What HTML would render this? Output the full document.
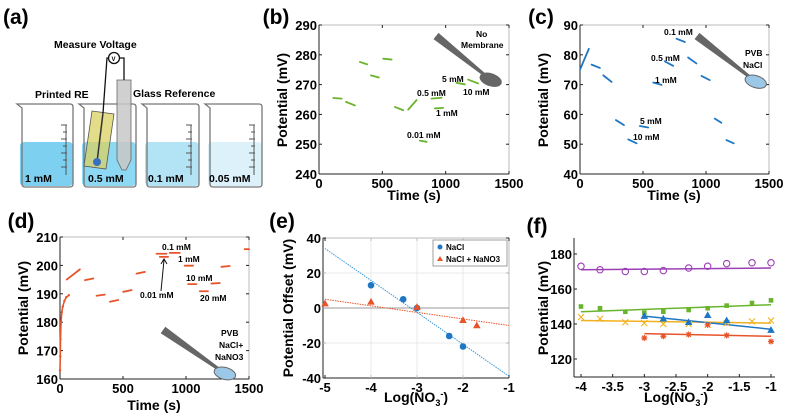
<!DOCTYPE html>
<html><head><meta charset="utf-8"><style>
body{margin:0;background:#fff}
svg{display:block;font-family:"Liberation Sans",Arial,sans-serif;font-weight:bold}
</style></head><body>
<svg id="fig" width="790" height="417" viewBox="0 0 790 417" xmlns="http://www.w3.org/2000/svg">
<!-- Panel a illustration -->
<g>
<text x="3" y="24" font-size="21">(a)</text>
<text x="54" y="48" font-size="10.5">Measure Voltage</text>
<text x="35" y="98" font-size="10.5">Printed RE</text>
<text x="133" y="97" font-size="10.5">Glass Reference</text>
<g>
<rect x="20" y="142" width="53" height="44" rx="4" fill="#7dd0ef"/>
<rect x="82" y="142" width="54" height="44" rx="4" fill="#8dd8f2"/>
<rect x="145" y="142" width="54" height="44" rx="4" fill="#b2e4f6"/>
<rect x="208" y="142" width="54" height="44" rx="4" fill="#dcf1fa"/>
<path d="M17 104 L22 108 L22 184 Q22 187 25 187 L70 187 Q73 187 73 184 L73 107 Q73 104 70 104 Z" fill="none" stroke="#777" stroke-width="1.3"/>
<path d="M79 104 L84 108 L84 184 Q84 187 87 187 L133 187 Q136 187 136 184 L136 107 Q136 104 133 104 Z" fill="none" stroke="#777" stroke-width="1.3"/>
<path d="M142 104 L147 108 L147 184 Q147 187 150 187 L196 187 Q199 187 199 184 L199 107 Q199 104 196 104 Z" fill="none" stroke="#777" stroke-width="1.3"/>
<path d="M205 104 L210 108 L210 184 Q210 187 213 187 L259 187 Q262 187 262 184 L262 107 Q262 104 259 104 Z" fill="none" stroke="#777" stroke-width="1.3"/>
<g stroke="#555" stroke-width="1">
<path d="M61 125h6M63 132h4M61 139h6M63 146h4M61 153h6M63 160h4M61 167h6M66 125v50"/>
<path d="M186 125h6M188 132h4M186 139h6M188 146h4M186 153h6M188 160h4M186 167h6M191 125v50"/>
<path d="M249 125h6M251 132h4M249 139h6M251 146h4M249 153h6M251 160h4M249 167h6M254 125v50"/>
</g>
</g>
<g>
<polygon points="92,111 114,114 106,169 84,166" fill="#d9d060" fill-opacity="0.75" stroke="#555" stroke-width="0.8"/>
<line x1="103" y1="113" x2="97" y2="162" stroke="#333" stroke-width="1.5"/>
<circle cx="97" cy="162" r="4" fill="#3a6ec0"/>
</g>
<g>
<path d="M117 80 L131 80 L131 160 L126 170 L122 170 L117 160 Z" fill="#c8c8c8" fill-opacity="0.85" stroke="#666" stroke-width="0.8"/>
</g>
<g fill="none" stroke="#111" stroke-width="1.3">
<path d="M103 113 L107 58 L108 58 M120 58 L124 58 L124 80"/>
<circle cx="114" cy="58" r="5.5" fill="#fff"/>
</g>
<text x="111.5" y="61" font-size="6">V</text>
<g font-size="10.5">
<text x="25" y="182">1 mM</text><text x="88" y="182">0.5 mM</text><text x="148" y="182">0.1 mM</text><text x="209" y="182">0.05 mM</text>
</g>
</g>
<g id="plots"></g>
</svg>
<script>
// ---------- data ----------
// (b) green segments: start time, end time, start V, end V
const bT0=[113,213,323,410,507,599,704,888,796,915,1085,1177];
const bT1=[179,284,381,473,573,665,770,967,849,980,1151,1256];
const bV0=[265.5,264.2,277.6,273.1,278.7,262.5,261.6,265.3,251.2,262.0,270.6,271.7];
const bV1=[265.3,263.0,276.8,272.4,278.4,261.4,264.8,265.6,250.8,262.2,270.1,270.4];
// (c) blue segments
const cT0=[0,92,185,285,383,475,581,673,766,858,964,1070,1162];
const cT1=[70,158,251,349,449,541,647,739,832,924,1030,1122,1220];
const cV0=[75,76.7,73.1,58.1,51.6,56.1,70.7,77.8,85.4,79.1,72.9,58.6,51.4];
const cV1=[82,75.6,70.9,56.4,50.3,55.6,69.9,76.3,84.3,77.1,71.5,57.2,50.3];
// (d) orange: initial rise points and segments
const dRiseT=[0,2,4,8,14,22,35,50,70];
const dRiseV=[163,168,174,180,183.5,185.5,187.5,188.8,189.5];
const dT0=[53,198,290,396,502,607,766,792,871,990,1017,1109,1202,1281,1466];
const dT1=[158,264,356,462,568,673,845,858,951,1056,1083,1175,1268,1347,1500];
const dV0=[195,194.8,189.3,187.2,190.7,197.1,204.1,203,204.4,199.9,193.4,190.9,193.6,199.5,205.7];
const dV1=[198.6,195.4,189.7,187.8,191.3,197.7,204.1,203,204.4,199.9,193.4,190.9,193.8,199.8,205.7];
// (e)
const eNaClX=[-4,-3.3,-3,-2.3,-2];
const eNaClY=[13,5,0,-16,-22];
const eNaClFit=[34,-39];
const eMixX=[-5,-4,-3,-2,-1.7];
const eMixY=[2.5,3.5,0.5,-7,-10];
const eMixFit=[5,-10];
// (f)
const fX10=[-4,-3.7,-3.3,-3,-2.7,-2.3,-2,-1.7,-1.3,-1];
const fX6=[-3,-2.7,-2.3,-2,-1.7,-1];
const fPurple=[173,171,170,170,170.5,172,173,174.5,175,175];
const fGreen=[150,149,147,146.5,147,148,149,150.5,152,153.5];
const fYellow=[144,143,141,140.5,140,140,139.5,140.5,141.5,142];
const fBlue=[144.5,143,141,145,142,136.5];
const fOrange=[132,133,134,139.5,133.5,130];
const fPurpleFit=[171,172], fGreenFit=[147,151], fYellowFit=[142,140.5], fBlueFit=[144.5,137], fOrangeFit=[134.5,133];

// ---------- helpers ----------
const NS="http://www.w3.org/2000/svg";
const root=document.getElementById('plots');
function el(tag,attrs,parent,txt){const e=document.createElementNS(NS,tag);for(const k in attrs)e.setAttribute(k,attrs[k]);if(txt!==undefined)e.textContent=txt;(parent||root).appendChild(e);return e;}
function scale(d0,d1,p0,p1){return v=>p0+(v-d0)/(d1-d0)*(p1-p0);}
function axes(name,L,R,T,B,sx,sy,xt,yt,box,xtl,ytl){
  const g=el('g',{});
  
  
  el('rect',{x:L,y:T,width:R-L,height:B-T,fill:'none',stroke:box?'#bbb':'none','stroke-width':1},g);
  el('line',{x1:L,y1:B,x2:R,y2:B,stroke:'#222','stroke-width':1},g);
  el('line',{x1:L,y1:T,x2:L,y2:B,stroke:'#222','stroke-width':1},g);
  xt.forEach((v,i)=>{const x=sx(v);el('line',{x1:x,y1:B,x2:x,y2:B-3,stroke:'#222'},g);
    if(box)el('line',{x1:x,y1:T,x2:x,y2:T+3,stroke:'#222'},g);
    const t=el('text',{x:x,y:B+14,'font-size':13,'text-anchor':'middle'},g,xtl?xtl[i]:String(v));
    });
  yt.forEach((v,i)=>{const y=sy(v);el('line',{x1:L,y1:y,x2:L+3,y2:y,stroke:'#222'},g);
    if(box)el('line',{x1:R,y1:y,x2:R-3,y2:y,stroke:'#222'},g);
    const t=el('text',{x:L-2,y:y+5,'font-size':13,'text-anchor':'end'},g,ytl?ytl[i]:String(v));
    });
  return g;
}
function label(txt,x,y,size,name,rot){const t=el('text',{x:x,y:y,'font-size':size,'text-anchor':'middle',transform:rot?`rotate(-90 ${x} ${y})`:''},root,txt);
  return t;}
function segs(name,t0,t1,v0,v1,sx,sy,color,w){
  const g=el('g',{});
  t0.forEach((_,i)=>{const p=el('line',{x1:sx(t0[i]),y1:sy(v0[i]),x2:sx(t1[i]),y2:sy(v1[i]),stroke:color,'stroke-width':w,'stroke-linecap':'round'},g);
    });
}
function spoon(x1,y1,x2,y2,fill,name){
  const g=el('g',{});
  const dx=x2-x1,dy=y2-y1,len=Math.hypot(dx,dy),nx=-dy/len,ny=dx/len;
  el('polygon',{points:`${x1+nx*4},${y1+ny*4} ${x1-nx*4},${y1-ny*4} ${x2-nx*1.5},${y2-ny*1.5} ${x2+nx*1.5},${y2+ny*1.5}`,fill:'#666'},g);
  el('ellipse',{cx:x2+dx/len*6,cy:y2+dy/len*6,rx:11,ry:6,fill:fill,stroke:'#666','stroke-width':1,transform:`rotate(${Math.atan2(dy,dx)*180/Math.PI-20} ${x2+dx/len*6} ${y2+dy/len*6})`},g);
}
function note(txt,x,y,name,size){const t=el('text',{x:x,y:y,'font-size':size||8.5},root,txt);}

// ---------- panel b ----------
{const sx=scale(0,1500,319,509),sy=scale(240,290,174,25);
 axes('panel-b',319,509,25,174,sx,sy,[0,500,1000,1500],[240,250,260,270,280,290],true);
 segs('panel-b-traces',bT0,bT1,bV0,bV1,sx,sy,'#6ab42d',1.8);
 spoon(436,36,486,76,'#666','panel-b-electrode-icon');
 label('(b)',276,24,21,'panel-label-b');
 label('Potential (mV)',287,100,14,'y-axis-title-b',true);
 label('Time (s)',414,200,14,'x-axis-title-b');
 note('No',476,37,'label-no');note('Membrane',461,48,'label-membrane');
 note('5 mM',442,82,'label-5mM');note('10 mM',463,95,'label-10mM');note('0.5 mM',417,96,'label-0.5mM');
 note('1 mM',436,116,'label-1mM');note('0.01 mM',407,138,'label-0.01mM');}
// ---------- panel c ----------
{const sx=scale(0,1500,580,769),sy=scale(40,90,174,25);
 axes('panel-c',580,769,25,174,sx,sy,[0,500,1000,1500],[40,50,60,70,80,90],true);
 segs('panel-c-traces',cT0,cT1,cV0,cV1,sx,sy,'#1f77c4',1.8);
 spoon(697,36,751,78,'#9cc8e8','panel-c-electrode-icon');
 label('(c)',541,24,21,'panel-label-c');
 label('Potential (mV)',548,100,14,'y-axis-title-c',true);
 label('Time (s)',674,200,14,'x-axis-title-c');
 note('0.1 mM',664,35,'label-0.1mM');note('0.5 mM',651,61,'label-0.5mM');note('1 mM',655,83,'label-1mM');
 note('PVB',745,56,'label-pvb');note('NaCl',743,68,'label-nacl');note('5 mM',640,124,'label-5mM');note('10 mM',633,140,'label-10mM');}
// ---------- panel d ----------
{const sx=scale(0,1500,60,249),sy=scale(160,210,379,237);
 axes('panel-d',60,249,237,379,sx,sy,[0,500,1000,1500],[160,170,180,190,200,210],true);
 const g=el('g',{});
 dRiseT.forEach((t,i)=>{const c=el('circle',{cx:sx(t),cy:sy(dRiseV[i]),r:1.2,fill:'#e8542a'},g);});
 el('polyline',{points:dRiseT.map((t,i)=>sx(t)+','+sy(dRiseV[i])).join(' '),fill:'none',stroke:'#e8542a','stroke-width':1.6},g);
 segs('panel-d-traces',dT0,dT1,dV0,dV1,sx,sy,'#e8542a',1.8);
 spoon(163,330,220,370,'#9cc8e8','panel-d-electrode-icon');
 label('(d)',21,228,21,'panel-label-d');
 label('Potential (mV)',28,308,14,'y-axis-title-d',true);
 label('Time (s)',154,410,14,'x-axis-title-d');
 note('0.1 mM',162,250,'label-0.1mM');note('1 mM',178,262,'label-1mM');note('10 mM',186,281,'label-10mM');
 note('20 mM',200,301,'label-20mM');note('0.01 mM',140,298,'label-0.01mM');
 const a=el('path',{d:'M161 291 L164 260 M161 264 L164 259 L167 264',fill:'none',stroke:'#111','stroke-width':1},root);
 note('PVB',221,336,'label-pvb');note('NaCl+',219,348,'label-nacl');note('NaNO3',215,360,'label-nano3');}
// ---------- panel e ----------
{const sx=scale(-5,-1,325,509),sy=scale(-40,40,378,238);
 axes('panel-e',323,509,238,378,sx,sy,[-5,-4,-3,-2,-1],[-40,-20,0,20,40],true);
 const gg=el('g',{stroke:'#e4e4e4','stroke-width':0.8});
 [-4,-3,-2].forEach(v=>el('line',{x1:sx(v),y1:238,x2:sx(v),y2:378},gg));
 [-20,20].forEach(v=>el('line',{x1:323,y1:sy(v),x2:509,y2:sy(v)},gg));
 el('line',{x1:323,y1:sy(0),x2:509,y2:sy(0),stroke:'#999','stroke-width':1},root);
 const f1=el('line',{x1:sx(-5),y1:sy(eNaClFit[0]),x2:sx(-1),y2:sy(eNaClFit[1]),stroke:'#3a9ad9','stroke-width':1,'stroke-dasharray':'1.5 1'});
 const f2=el('line',{x1:sx(-5),y1:sy(eMixFit[0]),x2:sx(-1),y2:sy(eMixFit[1]),stroke:'#e8542a','stroke-width':1,'stroke-dasharray':'1.5 1'});
 eNaClX.forEach((x,i)=>{const c=el('circle',{cx:sx(x),cy:sy(eNaClY[i]),r:3.3,fill:'#1f77c4'});});
 eMixX.forEach((x,i)=>{const X=sx(x),Y=sy(eMixY[i]);const p=el('polygon',{points:`${X},${Y-4} ${X-3.8},${Y+2.8} ${X+3.8},${Y+2.8}`,fill:'#e8542a'});});
 const lg=el('g',{});
 el('rect',{x:433,y:240,width:74,height:26,fill:'#fff',stroke:'#888','stroke-width':0.8},lg);
 el('circle',{cx:440,cy:247,r:2.5,fill:'#1f77c4'},lg);el('text',{x:446,y:250,'font-size':8},lg,'NaCl');
 el('polygon',{points:'440,256 437,261 443,261',fill:'#e8542a'},lg);el('text',{x:446,y:262,'font-size':8},lg,'NaCl + NaNO3');
 label('(e)',282,228,21,'panel-label-e');
 label('Potential Offset (mV)',293,308,14,'y-axis-title-e',true);
 const xt=el('text',{x:416,y:402,'font-size':14,'text-anchor':'middle'});
 xt.innerHTML='Log(NO<tspan font-size="9" dy="4">3</tspan><tspan font-size="9" dy="-9">-</tspan><tspan dy="5">)</tspan>';}
// ---------- panel f ----------
{const sx=scale(-4,-1,581,771),sy=scale(120,180,359,254);
 axes('panel-f',574,775,238,377,sx,sy,[-4,-3.5,-3,-2.5,-2,-1.5,-1],[120,140,160,180],false);
 function fit(name,x0,x1,ys,c){const l=el('line',{x1:sx(x0),y1:sy(ys[0]),x2:sx(x1),y2:sy(ys[1]),stroke:c,'stroke-width':1.5});}
 fit('purple-fit',-4,-1,fPurpleFit,'#9b3fb5');fit('green-fit',-4,-1,fGreenFit,'#6ab42d');fit('yellow-fit',-4,-1,fYellowFit,'#f2b01e');
 fit('blue-fit',-3,-1,fBlueFit,'#1f77c4');fit('orange-fit',-3,-1,fOrangeFit,'#e8542a');
 fX10.forEach((x,i)=>{const X=sx(x);
  let c=el('circle',{cx:X,cy:sy(fPurple[i]),r:3.2,fill:'none',stroke:'#9b3fb5','stroke-width':1.1});
  c=el('rect',{x:X-2.3,y:sy(fGreen[i])-2.3,width:4.6,height:4.6,fill:'#6ab42d'});
  const Y=sy(fYellow[i]);c=el('path',{d:`M${X-3} ${Y-3}L${X+3} ${Y+3}M${X+3} ${Y-3}L${X-3} ${Y+3}`,stroke:'#f2b01e','stroke-width':1.1});});
 fX6.forEach((x,i)=>{const X=sx(x);let Y=sy(fBlue[i]);
  let c=el('polygon',{points:`${X},${Y-4} ${X-3.8},${Y+2.8} ${X+3.8},${Y+2.8}`,fill:'#1f77c4'});
  Y=sy(fOrange[i]);c=el('path',{d:`M${X-3} ${Y}H${X+3}M${X} ${Y-3}V${Y+3}M${X-2.2} ${Y-2.2}L${X+2.2} ${Y+2.2}M${X+2.2} ${Y-2.2}L${X-2.2} ${Y+2.2}`,stroke:'#e8542a','stroke-width':1.2});});
 label('(f)',537,233,21,'panel-label-f');
 label('Potential (mV)',548,308,14,'y-axis-title-f',true);
 const xt=el('text',{x:676,y:402,'font-size':14,'text-anchor':'middle'});
 xt.innerHTML='Log(NO<tspan font-size="9" dy="4">3</tspan><tspan font-size="9" dy="-9">-</tspan><tspan dy="5">)</tspan>';}
</script>
</body></html>
